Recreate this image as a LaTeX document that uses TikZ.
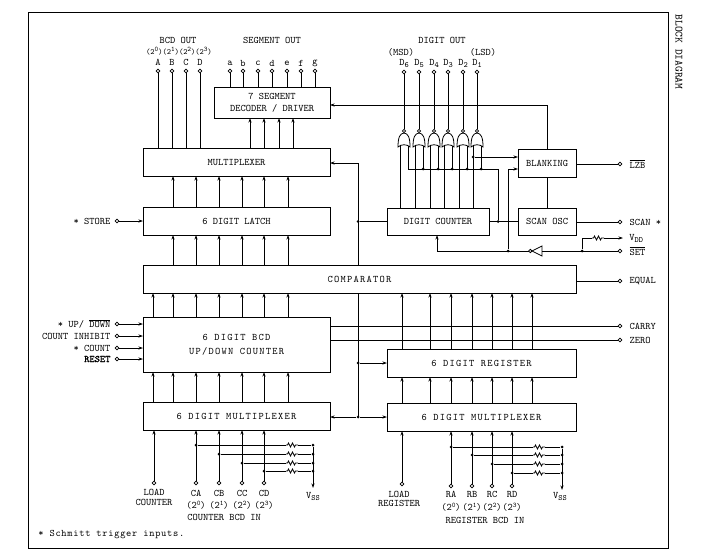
\documentclass[tikz,border=0pt]{standalone}
\usepackage{fontspec}
\setmonofont{Latin Modern Mono}
\usetikzlibrary{positioning,arrows.meta}

\newcommand{\widetxt}{\addfontfeature{LetterSpace=12.5}}
\newcommand{\sbs}[1]{\raisebox{-2pt}{\footnotesize #1}}
\newcommand{\sps}[1]{\raisebox{3pt}{\scriptsize #1}}

\tikzset{
norgate/.pic={
  \draw[line width=.8pt] (0,2) .. controls (-4,2.5) and (-6,6) .. (-6,16)
    .. controls (-3,13) and (3,13) .. (6,16)
    .. controls (6,6) and (4,2.5) .. cycle;
  \draw (0,0) circle (1.6);
  \coordinate (-out) at (0,-1.6);
  \coordinate (-inl) at (-4,14.5);
  \coordinate (-inr) at (4,14.5);
},
invgate/.pic={
  \draw[line width=.8pt] (0,0) -- (10,-5) -- (10,5) -- cycle;
  \draw (-1.7,0) circle (1.7);
  \coordinate (-out) at (-3.4,0);
  \coordinate (-in) at (10,0);
},
respic/.pic={
  \draw (-6,0) -- (-4.5,0) -- (-3.5,-2) -- (-1.5,2) -- (.5,-2) -- (2.5,2) -- (3.5,0) -- (6,0);
  \coordinate (-w) at (-6,0);
  \coordinate (-e) at (6,0);
}
}

\begin{document}
\begin{tikzpicture}[
x=1pt,y=-1pt,line width=.75pt,
block/.style={draw,fill=white,line width=1pt,inner sep=0pt,outer sep=0pt,align=center,font=\ttfamily},
widebox/.style={block,font=\ttfamily\widetxt},
pinc/.style={draw,circle,fill=white,inner sep=0pt,minimum size=3.6pt},
dotc/.style={circle,fill,inner sep=0pt,minimum size=3pt},
txt/.style={inner sep=0pt,align=center,font=\ttfamily\fontsize{10}{9.5}\selectfont},
>={Stealth[length=4.5pt,width=3pt]}
]
\useasboundingbox (0,0) rectangle (708,559);
\draw[line width=1pt] (28,13) rectangle (668,548);
\node[txt,rotate=-90,font=\ttfamily\fontsize{11}{11}\selectfont] (title) at (679,52) {BLOCK DIAGRAM};

% left column
\node[block,minimum width=116pt,minimum height=30pt] (dec) at (272,103) {7 SEGMENT\\DECODER / DRIVER};
\node[block,minimum width=187pt,minimum height=28pt] (mux) at (236.5,162) {MULTIPLEXER};
\node[block,minimum width=187pt,minimum height=28pt,below=31pt of mux] (latch) {6 DIGIT LATCH};
\node[widebox,minimum width=433pt,minimum height=28pt,below=30pt of latch.south west,anchor=north west] (comp) {COMPARATOR};
\node[widebox,minimum width=187pt,minimum height=55pt,below=24pt of comp.south west,anchor=north west] (cnt) {6 DIGIT BCD\\[2pt]UP/DOWN COUNTER};
\node[widebox,minimum width=187pt,minimum height=28pt,below=30pt of cnt] (lmux) {6 DIGIT MULTIPLEXER};

% right column
\node[block,minimum width=102pt,minimum height=27pt] (dig) at (438,221.5) {DIGIT COUNTER};
\node[block,minimum width=58pt,minimum height=27pt,right=29pt of dig] (scan) {SCAN OSC};
\node[block,minimum width=58pt,minimum height=28pt,above=31pt of scan] (blank) {BLANKING};
\node[widebox,minimum width=189pt,minimum height=28pt,below=56pt of comp.south east,anchor=north east] (reg) {6 DIGIT REGISTER};
\node[widebox,minimum width=189pt,minimum height=28pt,below=26pt of reg] (rmux) {6 DIGIT MULTIPLEXER};

% outputs at the top
\node[txt] (bcdt) at (178,40) {BCD OUT};
\node[txt,font=\ttfamily\fontsize{8}{8}\selectfont] (bcdw) at (179,51) {(2\sps{0})(2\sps{1})(2\sps{2})(2\sps{3})};
\foreach \n/\x in {A/158,B/172,C/186,D/200} {
  \node[pinc] (b\n) at (\x,71) {};
  \node[txt] (lb\n) at (\x,62) {\n};
  \draw (b\n) -- (b\n |- mux.north);
}
\node[txt] (segt) at (272,40) {SEGMENT OUT};
\foreach \n/\x in {a/230,b/243,c/258,d/272,e/287,f/301,g/315} {
  \node[pinc] (s\n) at (\x,71) {};
  \node[txt] (ls\n) at (\x,63) {\n};
  \draw (s\n) -- (s\n |- dec.north);
}
\foreach \x in {250,264,279,293}
  \draw[->] (\x,0 |- mux.north) -- (\x,0 |- dec.south);
\foreach \x in {173,196,219,242,264,288} {
  \draw[->] (\x,0 |- latch.north) -- (\x,0 |- mux.south);
  \draw[->] (\x,0 |- comp.north) -- (\x,0 |- latch.south);
}
\foreach \x in {153,173,196,219,242,264,288} {
  \draw[->] (\x,0 |- cnt.north) -- (\x,0 |- comp.south);
  \draw[->] (\x,0 |- lmux.north) -- (\x,0 |- cnt.south);
}
\foreach \x in {402,430,451,472,492,512,532} {
  \draw[->] (\x,0 |- reg.north) -- (\x,0 |- comp.south);
  \draw[->] (\x,0 |- rmux.north) -- (\x,0 |- reg.south);
}

% left inputs
\node[pinc] (store) at (117,221) {};
\node[txt,left=4pt of store] (lstore) {* STORE};
\draw[->] (store) -- (store -| latch.west);
\foreach \n/\y/\t in {up/324/{* UP/ $\overline{\mbox{DOWN}}$},inh/336/{COUNT INHIBIT},ct/348/{* COUNT},rs/359/{\addfontfeature{FakeBold=1.5}RESET}} {
  \node[pinc] (\n) at (117,\y) {};
  \node[txt,left=4pt of \n] (l\n) {\t};
  \draw[->] (\n) -- (\n -| cnt.west);
}

% right outputs
\foreach \n/\y/\t in {lzb/164/{$\overline{\mbox{LZB}}$},scn/222/{SCAN *},equ/281/{EQUAL},car/326/{CARRY},zer/340/{ZERO}} {
  \node[pinc] (\n) at (620,\y) {};
  \node[txt,right=7pt of \n] (l\n) {\t};
}
\draw (lzb -| blank.east) -- (lzb);
\draw (scn -| scan.east) -- (scn);
\draw (equ -| comp.east) -- (equ);
\draw (car -| cnt.east) -- (car);
\draw (zer -| cnt.east) -- (zer);

% select line
\coordinate (seltop) at (358,163);
\coordinate (selbot) at (358,417);
\draw[->] (seltop) -- (seltop -| mux.east);
\draw (seltop) -- (seltop |- comp.north);
\draw (seltop |- comp.south) -- (selbot);
\node[dotc] (seld) at (358,221.5) {};
\node[dotc] (selr) at (358,363) {};
\node[dotc] (selm) at (358,417) {};
\draw (seld) -- (seld -| dig.west);
\draw[->] (selr) -- (selr -| reg.west);
\draw[->] (selm) -- (selm -| rmux.west);
\draw[->] (selm) -- (selm -| lmux.east);

% digit outputs and gates
\node[txt] (digt) at (442,40) {DIGIT OUT};
\node[txt] (msd) at (401,52) {(MSD)};
\node[txt] (lsd) at (483,52) {(LSD)};
\coordinate (bus) at (498,169);
\node[dotc] (busd) at (498,221.5) {};
\foreach \n/\x in {6/404,5/419,4/434,3/448,2/463,1/477} {
  \pic (g\n) at (\x,131) {norgate};
  \node[pinc] (d\n) at (\x,72) {};
  \node[txt] (ld\n) at (\x,63) {D\sbs{\n}};
  \draw (d\n) -- (g\n-out);
  \draw (g\n-inl) -- (g\n-inl |- dig.north);
  \draw (g\n-inr) -- (g\n-inr |- bus);
}
\foreach \n in {5,4,3,2,1}
  \node[dotc] (bd\n) at (g\n-inr |- bus) {};
\draw (g6-inr |- bus) -- (bus) -- (busd);
\draw (dig) -- (scan);
\draw (blank) -- (scan);
\draw[->] (blank.north) |- (0,105 -| dec.east);
\node[dotc] (lsdd) at (g1-inl |- 0,157) {};
\draw[->] (lsdd) -- (lsdd -| blank.west);

% set and scan
\pic (inv) at (532,251) {invgate};
\node[dotc] (setd) at (508,251) {};
\node[dotc] (vdot) at (582,251) {};
\node[pinc] (set) at (620,251) {};
\node[txt,right=7pt of set] (lset) {$\overline{\mbox{SET}}$};
\coordinate (vdd) at (623,238);
\node[txt,right=6pt of vdd] (lvdd) {V\sbs{DD}};
\pic (rv) at (598,238) {respic};
\draw (set) -- (inv-in);
\draw (vdot) |- (rv-w);
\draw[->] (rv-e) -- (vdd);
\draw[->] (inv-out) -| (437,0 |- dig.south);
\draw[->] (setd) |- (0,169 -| blank.west);

% bottom left inputs
\node[pinc] (lc) at (154,483) {};
\node[txt] (llc) at (154,497.5) {LOAD\\COUNTER};
\draw[->] (lc) -- (lc |- lmux.south);
\foreach \n/\x/\w/\y in {A/196/0/445,B/219/1/454,C/242/2/463,D/264/3/471} {
  \node[pinc] (c\n) at (\x,483) {};
  \node[txt] (lc\n) at (\x,493) {C\n};
  \node[txt] (wc\n) at (\x,505) {(2\sps{\w})};
  \draw[->] (c\n) -- (c\n |- lmux.south);
  \node[dotc] (cd\n) at (c\n |- 0,\y) {};
  \pic (cr\n) at (292,\y) {respic};
  \node[dotc] (ce\n) at (313,\y) {};
  \draw (cd\n) -- (cr\n-w);
  \draw (cr\n-e) -- (ce\n);
}
\coordinate (vssl) at (313,488);
\draw[->] (ceA) -- (vssl);
\node[txt] (lvssl) at (313,496) {V\sbs{SS}};
\node[txt] (cbi) at (224,517) {COUNTER BCD IN};
\node[txt,anchor=west,font=\ttfamily\addfontfeature{LetterSpace=7}] (schm) at (38,535) {* Schmitt trigger inputs.};

% bottom right inputs
\node[pinc] (lr) at (402,484) {};
\node[txt] (llr) at (399,499) {LOAD\\REGISTER};
\draw[->] (lr) -- (lr |- rmux.south);
\foreach \n/\x/\w/\y in {A/451/0/447,B/472/1/455,C/492/2/464,D/512/3/473} {
  \node[pinc] (r\n) at (\x,486) {};
  \node[txt] (lr\n) at (\x,494) {R\n};
  \node[txt] (wr\n) at (\x,507) {(2\sps{\w})};
  \draw[->] (r\n) -- (r\n |- rmux.south);
  \node[dotc] (rd\n) at (r\n |- 0,\y) {};
  \pic (rr\n) at (539,\y) {respic};
  \node[dotc] (re\n) at (562,\y) {};
  \draw (rd\n) -- (rr\n-w);
  \draw (rr\n-e) -- (re\n);
}
\coordinate (vssr) at (562,490);
\draw[->] (reA) -- (vssr);
\node[txt] (lvssr) at (560,496) {V\sbs{SS}};
\node[txt] (rbi) at (485,520) {REGISTER BCD IN};

\end{tikzpicture}
\end{document}
